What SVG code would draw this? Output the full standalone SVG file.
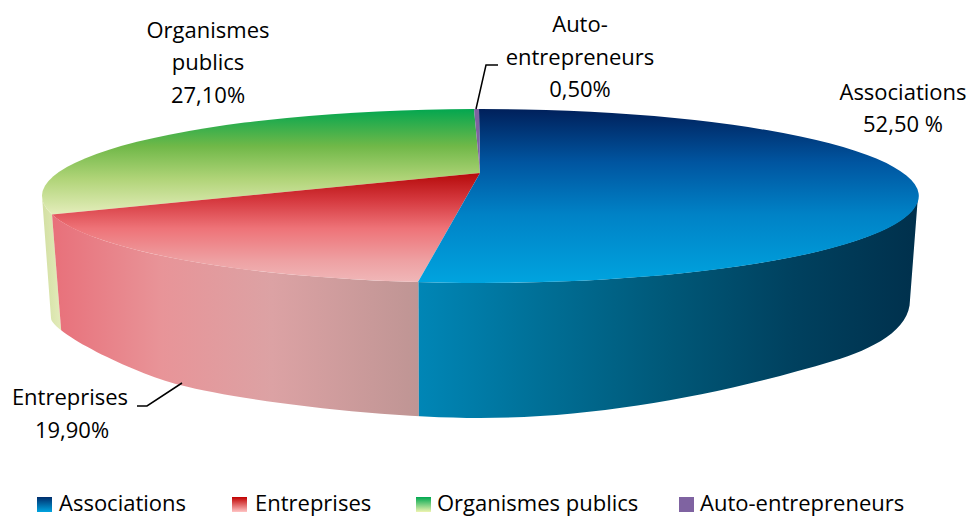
<svg xmlns="http://www.w3.org/2000/svg" width="971" height="518" viewBox="0 0 971 518">
  <style>
    .lbl { font-family: "Open Sans", "Liberation Sans", sans-serif; font-size: 22px; fill: #000; text-anchor: middle; }
    .leg { font-family: "Open Sans", "Liberation Sans", sans-serif; font-size: 22px; fill: #000; }
    .lead { fill: none; stroke: #000; stroke-width: 1.5; }
  </style>
  <defs>
    <linearGradient id="gBlueTop" gradientUnits="userSpaceOnUse" x1="0" y1="110" x2="0" y2="284">
      <stop offset="0" stop-color="#00215c"/>
      <stop offset="0.3" stop-color="#0055a0"/>
      <stop offset="0.6" stop-color="#0082c6"/>
      <stop offset="1" stop-color="#00a4df"/>
    </linearGradient>
    <linearGradient id="gBlueSide" gradientUnits="userSpaceOnUse" x1="418" y1="0" x2="918" y2="0">
      <stop offset="0" stop-color="#0086b6"/>
      <stop offset="0.25" stop-color="#006f96"/>
      <stop offset="0.5" stop-color="#005878"/>
      <stop offset="0.75" stop-color="#00415f"/>
      <stop offset="1" stop-color="#00304c"/>
    </linearGradient>
    <linearGradient id="gRedTop" gradientUnits="userSpaceOnUse" x1="0" y1="173" x2="0" y2="284">
      <stop offset="0" stop-color="#b50a0a"/>
      <stop offset="0.25" stop-color="#d63a40"/>
      <stop offset="0.5" stop-color="#ee7378"/>
      <stop offset="0.8" stop-color="#eea2a4"/>
      <stop offset="1" stop-color="#f0b9ba"/>
    </linearGradient>
    <linearGradient id="gRedSide" gradientUnits="userSpaceOnUse" x1="52" y1="0" x2="418" y2="0">
      <stop offset="0" stop-color="#e8707a"/>
      <stop offset="0.3" stop-color="#e89498"/>
      <stop offset="0.6" stop-color="#dca2a4"/>
      <stop offset="1" stop-color="#bf9594"/>
    </linearGradient>
    <linearGradient id="gGreenTop" gradientUnits="userSpaceOnUse" x1="0" y1="108" x2="0" y2="217">
      <stop offset="0" stop-color="#00a650"/>
      <stop offset="0.35" stop-color="#70b848"/>
      <stop offset="0.65" stop-color="#b0d478"/>
      <stop offset="1" stop-color="#e8efc0"/>
    </linearGradient>
    <linearGradient id="gGreenSide" gradientUnits="userSpaceOnUse" x1="42" y1="0" x2="62" y2="0">
      <stop offset="0" stop-color="#d2dfa2"/>
      <stop offset="1" stop-color="#e4ecbc"/>
    </linearGradient>
    <linearGradient id="lgBlue" x1="0" y1="0" x2="0" y2="1">
      <stop offset="0" stop-color="#002d6c"/>
      <stop offset="1" stop-color="#00a4e0"/>
    </linearGradient>
    <linearGradient id="lgRed" x1="0" y1="0" x2="0" y2="1">
      <stop offset="0" stop-color="#c00000"/>
      <stop offset="1" stop-color="#ffc4c4"/>
    </linearGradient>
    <linearGradient id="lgGreen" x1="0" y1="0" x2="0" y2="1">
      <stop offset="0" stop-color="#00a850"/>
      <stop offset="1" stop-color="#eef4b0"/>
    </linearGradient>
    <clipPath id="sideClip">
      <path d="M42,196 A438,87 0 0 0 918,196 L910,300 C910,330 873,349 833,361 C723,394 600,418 480,418 C380,418 240,400.6 180,385 C130,372 51,332 51,318 Z"/>
    </clipPath>
  </defs>

  <rect x="0" y="0" width="971" height="518" fill="#ffffff"/>

  <g id="slice-organismes">
    <polygon points="0,100 43,100 70.6,450 0,450" fill="url(#gGreenSide)" clip-path="url(#sideClip)"/>
    <path d="M480,173 L52,214.5 A438,87 0 0 1 474,109 Z" fill="url(#gGreenTop)"/>
  </g>
  <g id="slice-entreprises">
    <polygon points="43,100 70.6,450 419,450 418,100" fill="url(#gRedSide)" clip-path="url(#sideClip)"/>
    <path d="M480,173 L418,282.1 A438,87 0 0 1 52,214.5 Z" fill="url(#gRedTop)"/>
  </g>
  <g id="slice-associations">
    <polygon points="418,100 419,450 971,450 971,100" fill="url(#gBlueSide)" clip-path="url(#sideClip)"/>
    <path d="M480,173 L479,109 A438,87 0 1 1 418,282.1 Z" fill="url(#gBlueTop)"/>
  </g>
  <g id="slice-auto">
    <path d="M480,173 L474,109 A438,87 0 0 1 479,109 Z" fill="#7f63a1"/>
  </g>

  <g id="connectors">
    <polyline class="lead" points="476,109 486,65 498,65"/>
    <polyline class="lead" points="137,406 147,406 182,383"/>
  </g>

  <g id="label-associations">
    <text class="lbl" x="903" y="100">Associations</text>
    <text class="lbl" x="903" y="132">52,50 %</text>
  </g>
  <g id="label-organismes">
    <text class="lbl" x="208" y="38">Organismes</text>
    <text class="lbl" x="208" y="70">publics</text>
    <text class="lbl" x="208" y="103">27,10%</text>
  </g>
  <g id="label-auto">
    <text class="lbl" x="580" y="32">Auto-</text>
    <text class="lbl" x="580" y="65">entrepreneurs</text>
    <text class="lbl" x="580" y="97">0,50%</text>
  </g>
  <g id="label-entreprises">
    <text class="lbl" x="70" y="405">Entreprises</text>
    <text class="lbl" x="72" y="438">19,90%</text>
  </g>

  <g id="legend">
    <rect x="37" y="497" width="15" height="15" fill="url(#lgBlue)"/>
    <text class="leg" x="59" y="511">Associations</text>
    <rect x="232" y="497" width="15" height="15" fill="url(#lgRed)"/>
    <text class="leg" x="255" y="511">Entreprises</text>
    <rect x="416" y="497" width="15" height="15" fill="url(#lgGreen)"/>
    <text class="leg" x="437" y="511">Organismes publics</text>
    <rect x="679" y="497" width="15" height="15" fill="#7f63a1"/>
    <text class="leg" x="700" y="511">Auto-entrepreneurs</text>
  </g>
</svg>
